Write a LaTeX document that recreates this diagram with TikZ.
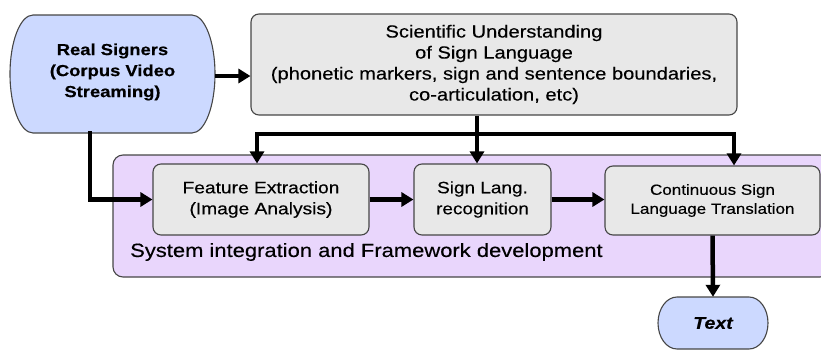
\documentclass[tikz,border=0pt]{standalone}
\usepackage{fontspec}
\setmainfont{Liberation Sans}[FakeStretch=1.15,FakeBold=0.3]
\usetikzlibrary{arrows.meta}
\definecolor{signerblue}{RGB}{204,217,255}
\definecolor{boxgray}{RGB}{232,232,232}
\definecolor{framepurple}{RGB}{233,214,252}
\definecolor{edgegray}{RGB}{70,70,70}
\tikzset{
  box/.style={draw=edgegray, line width=1.1pt, fill=boxgray, rounded corners=8pt, align=center, inner sep=0pt},
  term/.style={draw=edgegray, line width=1.1pt, fill=signerblue},
  flow/.style={line width=4.5pt, -{Triangle[length=12pt,width=14pt]}},
}

\begin{document}
\begin{tikzpicture}[x=1pt,y=-1pt]
\useasboundingbox (0,0) rectangle (821,351);

\draw[draw=edgegray, line width=1.1pt, fill=framepurple, rounded corners=10pt] (113,155) rectangle (830,277);
\draw[term] (33,15) -- (192,15) arc[start angle=90,end angle=-90,x radius=23pt,y radius=59pt] -- (33,133) arc[start angle=270,end angle=90,x radius=23pt,y radius=59pt] -- cycle;
\draw[term] (677,297) -- (749,297) arc[start angle=90,end angle=-90,x radius=19pt,y radius=26pt] -- (677,349) arc[start angle=270,end angle=90,x radius=19pt,y radius=26pt] -- cycle;

\node[minimum width=205pt, minimum height=118pt, align=center, font=\fontsize{16}{21}\bfseries\selectfont] (signers) at (112.5,72) {Real Signers\\(Corpus Video\\Streaming)};
\node[box, minimum width=486pt, minimum height=101pt, font=\fontsize{17.5}{21}\selectfont] (sci) at (494,64.5) {Scientific Understanding\\of Sign Language\\(phonetic markers, sign and sentence boundaries,\\co-articulation, etc)};
\node[box, minimum width=216pt, minimum height=71pt, font=\fontsize{16.7}{21}\selectfont] (feat) at (261,199.5) {Feature Extraction\\(Image Analysis)};
\node[box, minimum width=137pt, minimum height=71pt, font=\fontsize{16.5}{21}\selectfont] (sign) at (482.5,199.5) {Sign Lang.\\recognition};
\node[box, minimum width=215pt, minimum height=69pt, font=\fontsize{14.8}{19}\selectfont] (cont) at (712.5,200.5) {Continuous Sign\\Language Translation};
\node[anchor=west, inner sep=0pt, font=\fontsize{19.1}{22}\selectfont] (sysint) at (130,252) {System integration and Framework development};
\node[minimum width=110pt, minimum height=52pt, font=\fontsize{17}{20}\bfseries\itshape\selectfont] (txtout) at (713,323) {Text};

\coordinate (split) at (477,134);
\draw[flow] (signers.east |- 0,76) -- (sci.west |- 0,76);
\draw[flow] (split |- sci.south) -- (split |- sign.north);
\draw[flow] (split) -| ([xshift=-4pt]feat.north);
\draw[flow] (split) -| ([xshift=21.5pt]cont.north);
\draw[flow] ([xshift=-22.5pt]signers.south) |- (feat.west);
\draw[flow] (feat.east) -- (sign.west);
\draw[flow] (sign.east) -- (sign.east -| cont.west);
\draw[flow] (cont.south) -- (txtout.north);

\end{tikzpicture}
\end{document}
